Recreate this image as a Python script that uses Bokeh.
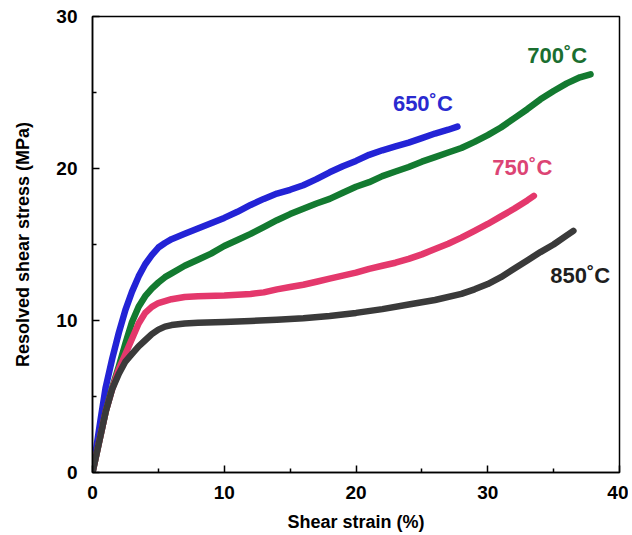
from bokeh.plotting import figure
from bokeh.embed import file_html
from bokeh.resources import INLINE
from bokeh.core.properties import value
from bokeh.models import FixedTicker

# Shear strain (%) and resolved shear stress (MPa)
x650 = [0, 0.3, 0.6, 1.0, 1.5, 2.0, 2.5, 3.0, 3.5, 4.0, 4.5, 5.0, 5.5, 6.0, 7.0, 8.0, 9.0, 10.0,
        11.0, 12.0, 13.0, 14.0, 15.0, 16.0, 17.0, 18.0, 19.0, 20.0, 21.0, 22.0, 23.0, 24.0, 25.0,
        26.0, 27.0, 27.7]
y650 = [0, 1.7, 3.4, 5.6, 7.5, 9.2, 10.7, 11.9, 12.9, 13.7, 14.3, 14.8, 15.1, 15.35, 15.7, 16.05,
        16.4, 16.75, 17.15, 17.6, 18.0, 18.35, 18.6, 18.9, 19.3, 19.75, 20.15, 20.5, 20.9, 21.2,
        21.45, 21.7, 22.0, 22.3, 22.55, 22.75]

x700 = [0, 0.5, 1.0, 1.5, 2.0, 2.5, 3.0, 3.5, 4.0, 4.5, 5.0, 5.5, 6.0, 7.0, 8.0, 9.0, 10.0, 11.0,
        12.0, 13.0, 14.0, 15.0, 16.0, 17.0, 18.0, 19.0, 20.0, 21.0, 22.0, 23.0, 24.0, 25.0, 26.0,
        27.0, 28.0, 29.0, 30.0, 31.0, 32.0, 33.0, 34.0, 35.0, 36.0, 37.0, 37.8]
y700 = [0, 2.0, 4.0, 5.6, 7.0, 8.5, 9.9, 10.9, 11.6, 12.1, 12.5, 12.85, 13.1, 13.6, 14.0, 14.4,
        14.9, 15.3, 15.7, 16.15, 16.6, 17.0, 17.35, 17.7, 18.0, 18.4, 18.8, 19.1, 19.5, 19.8, 20.1,
        20.45, 20.75, 21.05, 21.35, 21.75, 22.2, 22.7, 23.3, 23.9, 24.55, 25.1, 25.6, 26.0, 26.2]

x750 = [0, 0.5, 1.0, 1.5, 2.0, 2.5, 3.0, 3.5, 4.0, 4.5, 5.0, 6.0, 7.0, 8.0, 10.0, 12.0, 13.0, 14.0,
        15.0, 16.0, 17.0, 18.0, 19.0, 20.0, 21.0, 22.0, 23.0, 24.0, 25.0, 26.0, 27.0, 28.0, 29.0,
        30.0, 31.0, 32.0, 33.0, 33.5]
y750 = [0, 2.0, 4.0, 5.5, 6.8, 7.8, 8.8, 9.8, 10.5, 10.9, 11.15, 11.4, 11.55, 11.6, 11.65, 11.75,
        11.85, 12.05, 12.2, 12.35, 12.55, 12.75, 12.95, 13.15, 13.4, 13.6, 13.8, 14.05, 14.35, 14.7,
        15.05, 15.45, 15.9, 16.35, 16.85, 17.35, 17.9, 18.2]

x850 = [0, 0.5, 1.0, 1.5, 2.0, 2.5, 3.0, 3.5, 4.0, 4.5, 5.0, 5.5, 6.0, 7.0, 8.0, 10.0, 12.0, 14.0,
        16.0, 18.0, 20.0, 22.0, 24.0, 26.0, 28.0, 29.0, 30.0, 31.0, 32.0, 33.0, 34.0, 35.0, 36.0, 36.5]
y850 = [0, 2.0, 4.0, 5.5, 6.5, 7.3, 7.8, 8.3, 8.7, 9.1, 9.4, 9.6, 9.7, 9.8, 9.85, 9.9, 9.97, 10.05,
        10.15, 10.3, 10.5, 10.75, 11.05, 11.35, 11.75, 12.05, 12.4, 12.85, 13.4, 13.95, 14.5, 15.0,
        15.6, 15.9]

labels = ["650˚C", "700˚C", "750˚C", "850˚C"]
label_x = [22.8, 33.0, 30.35, 34.75]
label_y = [24.25, 27.45, 20.05, 12.95]

line_colors = ["#2323d6", "#137a30", "#e4386c", "#3a3a3a"]
text_colors = ["#2a2ad0", "#1a6e30", "#dc4474", "#1e1e1e"]

p = figure(width=628, height=535, x_range=(0, 40), y_range=(0, 30),
           output_backend="svg", toolbar_location=None,
           min_border_left=92, min_border_right=9, min_border_top=16, min_border_bottom=63)
p.xgrid.visible = False
p.ygrid.visible = False
p.outline_line_color = "black"
p.outline_line_width = 1.5
p.background_fill_color = "white"
p.border_fill_color = "white"

for xs, ys, c in zip([x650, x700, x750, x850], [y650, y700, y750, y850], line_colors):
    p.line(xs, ys, line_color=c, line_width=6.5, line_cap="round", line_join="round")

for lab, lx, ly, tc in zip(labels, label_x, label_y, text_colors):
    p.text([lx], [ly], text=[lab], text_color=tc, text_font=value("Liberation Sans"),
           text_font_style="bold", text_font_size="22px", text_baseline="alphabetic", text_align="left")

for ax in (p.xaxis[0], p.yaxis[0]):
    ax.axis_line_color = "black"
    ax.axis_line_width = 1.5
    ax.major_tick_in = 7
    ax.major_tick_out = 0
    ax.minor_tick_in = 4
    ax.minor_tick_out = 0
    ax.major_tick_line_width = 1.5
    ax.minor_tick_line_width = 1.5
    ax.major_label_text_font = "Liberation Sans"
    ax.major_label_text_font_style = "bold"
    ax.major_label_text_font_size = "19px"
    ax.major_label_text_color = "black"
    ax.axis_label_text_font = "Liberation Sans"
    ax.axis_label_text_font_style = "bold"
    ax.axis_label_text_font_size = "18px"
    ax.axis_label_text_color = "black"

p.xaxis.ticker = FixedTicker(ticks=[0, 10, 20, 30, 40], minor_ticks=[5, 15, 25, 35])
p.yaxis.ticker = FixedTicker(ticks=[0, 10, 20, 30], minor_ticks=[5, 15, 25])
p.xaxis.axis_label = "Shear strain (%)"
p.yaxis.axis_label = "Resolved shear stress (MPa)"
p.xaxis.major_label_standoff = 13
p.yaxis.major_label_standoff = 15
p.xaxis.axis_label_standoff = 10
p.yaxis.axis_label_standoff = 20

open("out.html", "w").write(file_html(p, INLINE))
